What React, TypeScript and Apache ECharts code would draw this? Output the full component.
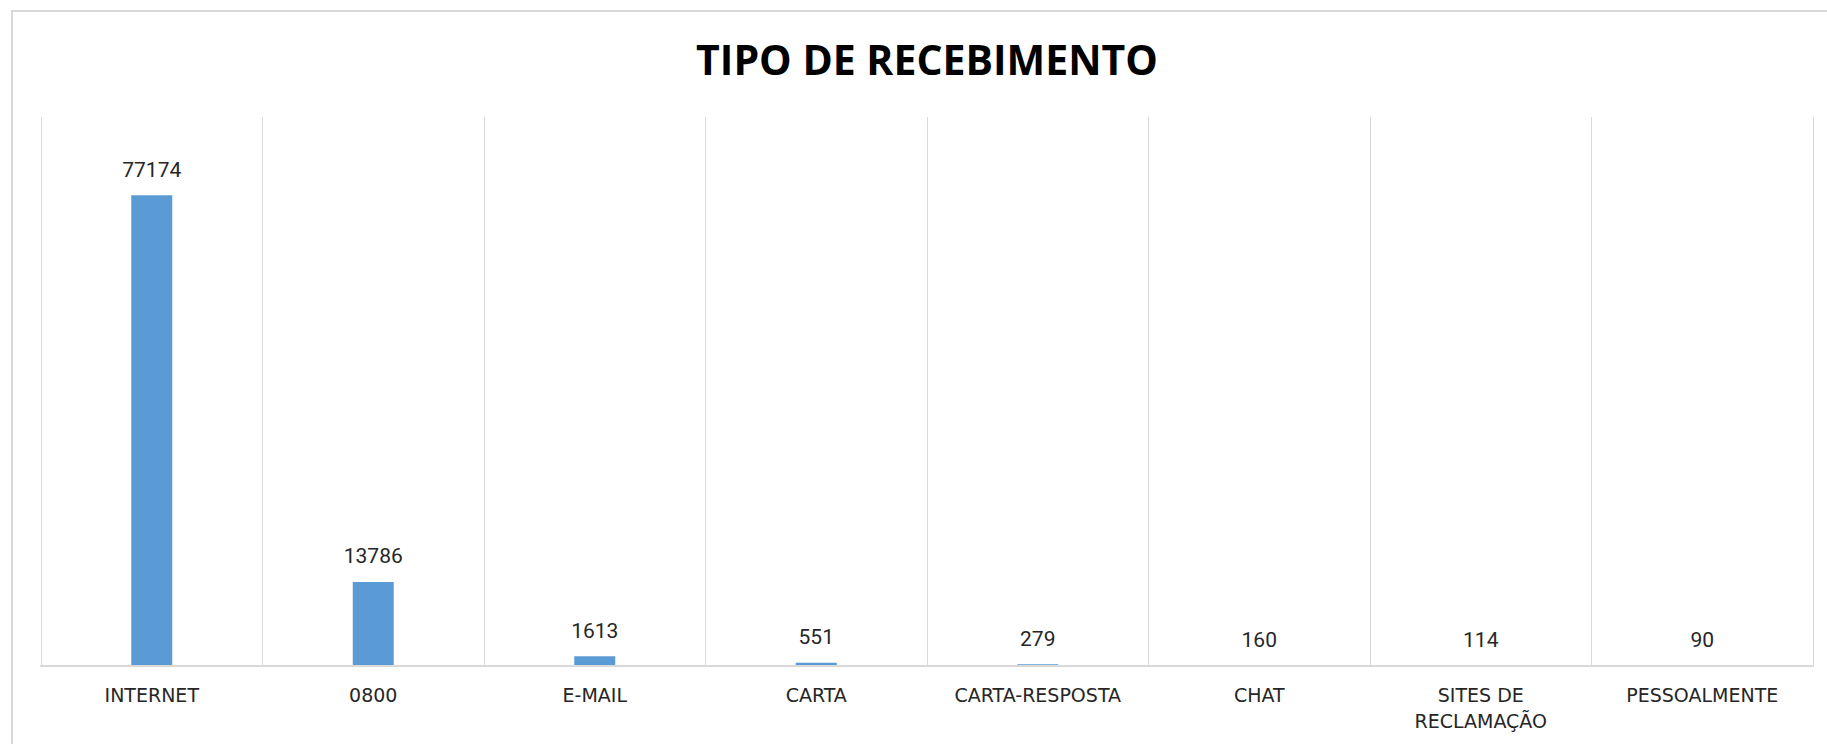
import React, { useEffect, useRef } from "react";
import * as echarts from "echarts";

const categories = [
  "INTERNET",
  "0800",
  "E-MAIL",
  "CARTA",
  "CARTA-RESPOSTA",
  "CHAT",
  "SITES DE RECLAMAÇÃO",
  "PESSOALMENTE",
];
const values = [77174, 13786, 1613, 551, 279, 160, 114, 90];
const titleText = "TIPO DE RECEBIMENTO";

export default function App() {
  const ref = useRef<HTMLDivElement>(null);
  useEffect(() => {
    if (!ref.current) return;
    const chart = echarts.init(ref.current, null, { renderer: "svg" });
    chart.setOption({
      animation: false,
      backgroundColor: "#ffffff",
      graphic: [
        {
          type: "rect",
          shape: { x: 12, y: 11, width: 1840, height: 760 },
          style: { fill: "none", stroke: "#d9d9d9", lineWidth: 2 },
          silent: true,
          z: -1,
        },
        {
          type: "text",
          x: 927,
          y: 59,
          style: {
            text: titleText,
            font: "bold 41px 'Open Sans'",
            fill: "#000000",
            textAlign: "center",
            textVerticalAlign: "middle",
          },
        },
      ],
      grid: { left: 41, right: 14, top: 117, bottom: 78, containLabel: false },
      xAxis: {
        type: "category",
        data: categories,
        boundaryGap: true,
        z: 5,
        axisLine: { show: true, lineStyle: { color: "#d9d9d9", width: 2 } },
        axisTick: { show: false },
        splitLine: { show: true, lineStyle: { color: "#d9d9d9", width: 1 } },
        axisLabel: {
          interval: 0,
          margin: 16,
          color: "#262626",
          fontFamily: "DejaVu Sans",
          fontSize: 19,
          lineHeight: 26,
          formatter: (v: string) =>
            v === "SITES DE RECLAMAÇÃO" ? "SITES DE\nRECLAMAÇÃO" : v,
        },
      },
      yAxis: {
        type: "value",
        min: 0,
        max: 90000,
        show: false,
        splitLine: { show: false },
      },
      series: [
        {
          type: "bar",
          data: values,
          barWidth: 41,
          itemStyle: { color: "#5b9bd5" },
          label: {
            show: true,
            position: "top",
            distance: 15,
            color: "#262626",
            fontFamily: "Roboto",
            fontSize: 21,
          },
        },
      ],
    });
    return () => chart.dispose();
  }, []);
  return (
    <div
      ref={ref}
      style={{ position: "fixed", left: 0, top: 0, width: 1827, height: 744 }}
    />
  );
}
